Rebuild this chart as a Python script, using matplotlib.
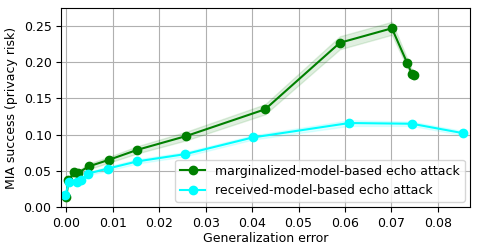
import numpy as np
import matplotlib.pyplot as plt

# marginalized-model-based echo attack
marg_x = [0.0, 0.0004, 0.0017, 0.0025, 0.0048, 0.0091, 0.0153, 0.0258, 0.0428, 0.0589, 0.0701, 0.0734, 0.0744, 0.0748]
marg_y = [0.014, 0.037, 0.048, 0.047, 0.056, 0.065, 0.079, 0.098, 0.135, 0.227, 0.247, 0.199, 0.184, 0.182]
marg_err = [0.002, 0.003, 0.003, 0.003, 0.004, 0.004, 0.005, 0.006, 0.007, 0.009, 0.009, 0.006, 0.006, 0.006]

# received-model-based echo attack
recv_x = [-0.0002, 0.0005, 0.0022, 0.0032, 0.0046, 0.0089, 0.0153, 0.0256, 0.0401, 0.0609, 0.0744, 0.0854]
recv_y = [0.016, 0.034, 0.035, 0.037, 0.046, 0.053, 0.063, 0.073, 0.096, 0.116, 0.115, 0.102]
recv_err = [0.002, 0.002, 0.002, 0.002, 0.002, 0.003, 0.003, 0.003, 0.003, 0.004, 0.003, 0.003]

fig = plt.figure(figsize=(4.79, 2.44), dpi=100)
ax = fig.add_axes([0.128, 0.152, 0.853, 0.815])

m_lo = np.array(marg_y) - np.array(marg_err)
m_hi = np.array(marg_y) + np.array(marg_err)
r_lo = np.array(recv_y) - np.array(recv_err)
r_hi = np.array(recv_y) + np.array(recv_err)

ax.fill_between(marg_x, m_lo, m_hi, color='green', alpha=0.12)
ax.fill_between(recv_x, r_lo, r_hi, color='cyan', alpha=0.12)
ax.plot(marg_x, marg_y, 'o-', color='green', markersize=6, linewidth=1.5, label='marginalized-model-based echo attack')
ax.plot(recv_x, recv_y, 'o-', color='cyan', markersize=6, linewidth=1.5, label='received-model-based echo attack')

ax.set_xlim(-0.0011, 0.0869)
ax.set_ylim(0, 0.275)
ax.set_xticks(np.arange(0, 0.081, 0.01))
ax.set_yticks(np.arange(0, 0.26, 0.05))
ax.tick_params(labelsize=9)
ax.set_xlabel('Generalization error', fontsize=9, labelpad=2)
ax.set_ylabel('MIA success (privacy risk)', fontsize=9)
ax.grid(True, color='#b0b0b0', linewidth=0.8)
ax.set_axisbelow(True)
ax.legend(loc='lower right', fontsize=9, fancybox=True, borderaxespad=0.4)

fig.savefig('out.png', dpi=100)
